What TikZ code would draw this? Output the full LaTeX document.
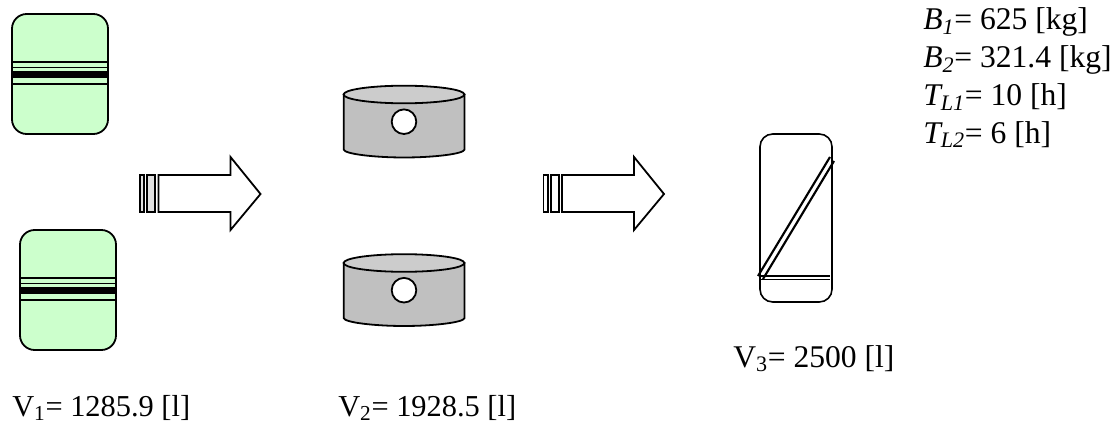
\documentclass[tikz,border=0pt]{standalone}
\usepackage{fontspec}
\setmainfont{Liberation Serif}
\definecolor{tankGreen}{RGB}{204,255,204}
\definecolor{drumGray}{RGB}{192,192,192}
\definecolor{drumTop}{RGB}{204,204,204}
\tikzset{
  vlabel/.style={font=\fontsize{22.8}{28.5}\selectfont, text=black, anchor=base west,
    inner sep=0pt, align=left},
  vdata/.style={vlabel, font=\fontsize{23.7}{28.5}\selectfont},
  vessel/.style={draw=black, line width=1.35pt, rounded corners=11pt},
  band/.style={draw=black, line width=1.05pt},
  bandfat/.style={draw=black, line width=5.4pt},
  shell/.style={draw=black, line width=1.35pt},
  flowbar/.style={draw=black, line width=1.35pt, line join=miter}
}
\begin{document}
\begin{tikzpicture}[x=.75pt,y=-.75pt]
\path[use as bounding box] (0,0) rectangle (1119,424);

% green tanks
\foreach \x/\y in {12/14,20/230}{
  \draw[vessel, fill=tankGreen] (\x,\y) rectangle +(96,120);
  \draw[band] (\x+1,\y+48) -- +(94,0);
  \draw[band] (\x+1,\y+53.5) -- +(94,0);
  \draw[bandfat] (\x+1,\y+60.5) -- +(94,0);
  \draw[band] (\x+1,\y+70) -- +(94,0);
}

% gray drums
\foreach \y in {0,168.5}{
  \draw[shell, fill=drumGray] (343.7,94.5+\y) -- (343.7,149.5+\y)
    .. controls (344,154+\y) and (375,157.5+\y) .. (404,157.5+\y)
    .. controls (433,157.5+\y) and (464,154+\y) .. (464.5,149.5+\y)
    -- (464.5,94.5+\y) -- cycle;
  \draw[shell, fill=drumTop] (404,94.5+\y) ellipse (60.4 and 8.8);
  \draw[shell, fill=white] (404,121.7+\y) circle (12.3);
}

% flow arrows
\foreach \x/\c in {140/black!12,543.5/white}{
  \draw[flowbar, fill=\c] (\x,175) rectangle +(4.2,37);
  \draw[flowbar, fill=\c] (\x+7.3,175) rectangle +(8,37);
  \draw[flowbar, fill=white] (\x+18.5,175) -- (\x+90.5,175) -- (\x+90.5,157) -- (\x+120.5,194)
    -- (\x+90.5,230) -- (\x+90.5,212) -- (\x+18.5,212) -- cycle;
}

% settler
\draw[vessel, line width=1.2pt, rounded corners=9.5pt] (760,134) rectangle (832,302);
\draw[band, line width=.9pt] (761,276) -- (830,276);
\draw[band, line width=1.2pt] (761,279.5) -- (830,279.5);
\draw[draw=black, line width=1.6pt] (758,276) -- (830,157);
\draw[draw=black, line width=1.6pt] (763,279) -- (834,161);

\node[vlabel] (v1) at (12,416) {V\textsubscript{1}= 1285.9 [l]};
\node[vlabel] (v2) at (338,416) {V\textsubscript{2}= 1928.5 [l]};
\node[vdata] (v3) at (733,367) {V\textsubscript{3}= 2500 [l]};

\node[vdata] (b1) at (923,30) {\textit{B\textsubscript{1}}= 625 [kg]};
\node[vdata] (b2) at (923,68) {\textit{B\textsubscript{2}}= 321.4 [kg]};
\node[vdata] (tl1) at (923,106) {\textit{T\textsubscript{L1}}= 10 [h]};
\node[vdata] (tl2) at (923,143) {\textit{T\textsubscript{L2}}= 6 [h]};
\end{tikzpicture}
\end{document}
